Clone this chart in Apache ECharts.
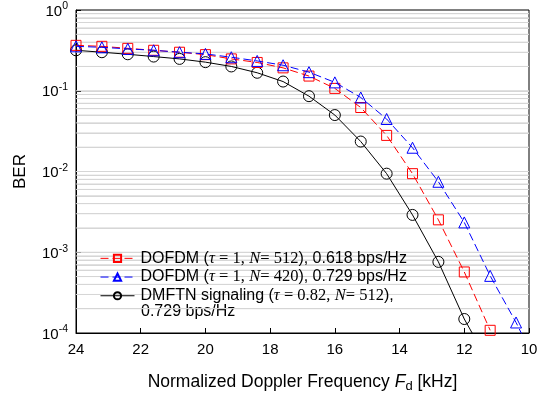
<!DOCTYPE html>
<html><head><meta charset="utf-8">
<script src="https://cdn.jsdelivr.net/npm/echarts@6/dist/echarts.min.js"></script>
<style>html,body{margin:0;padding:0;background:#fff}#c{width:547px;height:398px}</style>
</head><body><div id="c"></div>
<script>
const freqs = [24, 23.2, 22.4, 21.6, 20.8, 20, 19.2, 18.4, 17.6, 16.8, 16, 15.2, 14.4, 13.6, 12.8, 12, 11.2, 10.4, 9.6];
const berDofdm512 = [0.365, 0.355, 0.335, 0.317, 0.30, 0.28, 0.248, 0.224, 0.192, 0.152, 0.107, 0.062, 0.028, 0.0094, 0.00252, 0.00057, 0.000108];
const berDofdm420 = [0.355, 0.345, 0.33, 0.317, 0.30, 0.286, 0.26, 0.234, 0.207, 0.17, 0.127, 0.0825, 0.0447, 0.0197, 0.00746, 0.00234, 0.00051, 0.000135, 0.00003];
const berDmftn = [0.317, 0.30, 0.283, 0.265, 0.248, 0.226, 0.2, 0.167, 0.13, 0.0857, 0.05, 0.0235, 0.0094, 0.0029, 0.00076, 0.000149, 0.00004];
const xTicks = [24, 22, 20, 18, 16, 14, 12, 10];
const gridMantissas = [1, 2, 3, 4, 5, 6, 7, 8, 9];
const gridExponents = [-4, -3, -2, -1];
const seriesNames = ['DOFDM 512', 'DOFDM 420', 'DMFTN'];
const legendLabels = {
  'DOFDM 512': 'DOFDM ({si|τ}{s| = 1,} {si|N}{s|= 512}), 0.618 bps/Hz',
  'DOFDM 420': 'DOFDM ({si|τ}{s| = 1,} {si|N}{s|= 420}), 0.729 bps/Hz',
  'DMFTN': 'DMFTN signaling ({si|τ}{s| = 0.82,} {si|N}{s|= 512}),'
};
const legendExtra = '0.729 bps/Hz';

const pairs = (ys) => ys.map((y, i) => [freqs[i], y]);
const gridValues = [];
gridExponents.forEach(e => gridMantissas.forEach(m => {
  if (m === 1 && e === -4) return;
  gridValues.push(m * Math.pow(10, e));
}));
const gridColor = '#d6d6d6';
const gridSeries = gridValues.map(v => ({type: 'line', name: '_g' + v, data: [[24, v], [10, v]], silent: true, z: 2,
  yAxisIndex: 0, symbol: 'none', lineStyle: {color: gridColor, width: 1, type: 'solid'}}));

const font = 'Liberation Sans, Arial, sans-serif';
const serif = 'Liberation Serif, Times New Roman, serif';
const chart = echarts.init(document.getElementById('c'), null, {renderer: 'canvas'});
chart.setOption({
  animation: false,
  backgroundColor: '#fff',
  grid: {left: 76, right: 18, top: 10, bottom: 62, show: true, borderColor: '#000', borderWidth: 1, containLabel: false},
  xAxis: {
    type: 'value', inverse: true, min: 10, max: 24, interval: 2,
    axisLine: {lineStyle: {color: '#000'}},
    axisTick: {inside: true, length: 5, lineStyle: {color: '#000'}},
    axisLabel: {color: '#000', fontFamily: font, fontSize: 15, margin: 9,
      formatter: v => xTicks.includes(v) ? String(v) : ''},
    splitLine: {show: false},
    name: 'Normalized Doppler Frequency {i|F}{sub|d} [kHz]',
    nameLocation: 'middle', nameGap: 39,
    nameTextStyle: {color: '#000', fontFamily: font, fontSize: 17.5, lineHeight: 21,
      rich: {i: {fontFamily: font, fontStyle: 'italic', fontSize: 17.5, color: '#000', lineHeight: 21},
             sub: {fontFamily: font, fontSize: 13, color: '#000', lineHeight: 21, verticalAlign: 'bottom', padding: [6, 0, 0, 0]}}}
  },
  yAxis: [{
    type: 'log', logBase: 10, min: 1e-4, max: 1, splitNumber: 4,
    axisLine: {lineStyle: {color: '#000'}},
    axisTick: {inside: true, length: 5, lineStyle: {color: '#000'}},
    axisLabel: {color: '#000', fontFamily: font, fontSize: 15, margin: 8,
      formatter: v => '{b|10}{sup|' + String(Math.round(Math.log10(v))) + '}',
      rich: {b: {fontFamily: font, fontSize: 15, color: '#000', lineHeight: 18, verticalAlign: 'bottom'},
             sup: {fontFamily: font, fontSize: 10.5, color: '#000', lineHeight: 18, verticalAlign: 'top', padding: [0, 0, 8, 0]}}},
    splitLine: {show: false},
    name: 'BER', nameLocation: 'middle', nameGap: 47, nameRotate: 90,
    nameTextStyle: {color: '#000', fontFamily: font, fontSize: 17}
  }, {
    type: 'log', logBase: 10, min: 1e-4, max: 1, position: 'left', z: 0,
    axisLine: {show: false},
    axisTick: {show: false, customValues: gridValues},
    axisLabel: {show: false, customValues: gridValues},
    splitLine: {show: true, lineStyle: {color: gridColor, width: 1}}
  }],
  legend: {
    orient: 'vertical', left: 95, top: 244, itemWidth: 34, itemHeight: 9, itemGap: 0,
    data: seriesNames,
    formatter: n => legendLabels[n],
    lineStyle: {width: 1},
    textStyle: {color: '#000', fontFamily: font, fontSize: 16, lineHeight: 18.7, padding: [0, 0, 0, 1],
      rich: {s: {fontFamily: serif, fontSize: 16.5, color: '#000', lineHeight: 18.7},
             si: {fontFamily: serif, fontStyle: 'italic', fontSize: 16.5, color: '#000', lineHeight: 18.7}}}
  },
  graphic: [{type: 'text', left: 141, top: 304, style: {text: legendExtra, fontFamily: font, fontSize: 16, fill: '#000'}}],
  series: gridSeries.concat([
    {type: 'line', name: seriesNames[0], data: pairs(berDofdm512), z: 4,
     symbol: 'rect', symbolSize: 10,
     lineStyle: {color: '#ff0000', width: 1, type: [8, 4]},
     itemStyle: {color: 'rgba(0,0,0,0)', borderColor: '#ff0000', borderWidth: 1}},
    {type: 'line', name: seriesNames[1], data: pairs(berDofdm420), z: 5,
     symbol: 'triangle', symbolSize: 11,
     lineStyle: {color: '#0000ff', width: 1, type: [8, 4]},
     itemStyle: {color: 'rgba(0,0,0,0)', borderColor: '#0000ff', borderWidth: 1}},
    {type: 'line', name: seriesNames[2], data: pairs(berDmftn), z: 3,
     symbol: 'circle', symbolSize: 11,
     lineStyle: {color: '#000', width: 1, type: 'solid'},
     itemStyle: {color: 'rgba(0,0,0,0)', borderColor: '#000', borderWidth: 1}}
  ])
});
</script></body></html>
